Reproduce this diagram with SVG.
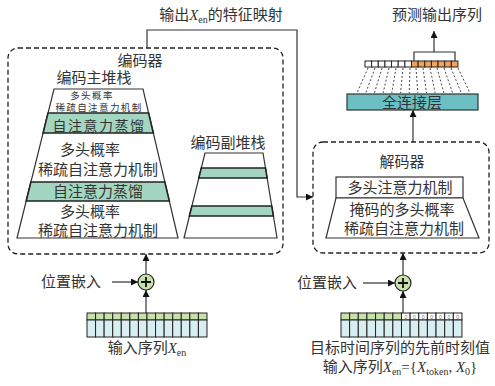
<svg xmlns="http://www.w3.org/2000/svg" width="495" height="386" viewBox="0 0 495 386">
<style>
text{font-family:"Noto Sans CJK SC","Liberation Sans",sans-serif;font-size:15px;fill:#333;text-anchor:middle}
.s{font-size:9.5px;letter-spacing:1.4px}
.m{font-size:14px;letter-spacing:1.5px}
.x{font-family:"Liberation Serif",serif;font-style:italic}
.sub{font-family:"Liberation Serif",serif;font-size:10px}
.ln{stroke:#333;stroke-width:1.2;fill:none}
.dash{stroke:#222;stroke-width:1.3;fill:none;stroke-dasharray:5 3}
.wh{fill:#fff;stroke:#333;stroke-width:1.2}
.gb{fill:#A3D6C0;stroke:#222;stroke-width:1.6}
.cg{fill:#C6E2A8;stroke:#222;stroke-width:1}
.cb{fill:#D8EEF3;stroke:#222;stroke-width:1}
.cw{fill:#fff;stroke:#222;stroke-width:1}
.co{fill:#F4A25A;stroke:#222;stroke-width:1}
.fd{stroke:#333;stroke-width:0.9;stroke-dasharray:2 2}
.z{font-family:"Liberation Sans",sans-serif;font-size:5px;fill:#777}
</style>
<defs>
<marker id="ah" viewBox="0 0 10 10" refX="10" refY="5" markerWidth="7" markerHeight="7" orient="auto" markerUnits="userSpaceOnUse">
<path d="M0,0 L10,5 L0,10 z" fill="#111"/>
</marker>
</defs>

<g id="encoder">
<rect class="dash" x="8" y="48" width="275" height="206" rx="10"/>
<text x="140" y="66">编码器</text>
</g>

<g id="encoder-main-stack">
<text x="94" y="82.5">编码主堆栈</text>
<polygon class="wh" points="54,89 143,89 178,238 17,238"/>
<polygon class="gb" points="48,113 148.6,113 153.3,133 43.1,133"/>
<polygon class="gb" points="30.9,182 164.8,182 169.3,201 26.2,201"/>
<text class="s" x="92" y="98.5">多头概率</text>
<text class="s" x="99" y="111">稀疏自注意力机制</text>
<text class="m" x="99" y="130.5">自注意力蒸馏</text>
<text x="90" y="155">多头概率</text>
<text x="98" y="175">稀疏自注意力机制</text>
<text x="98" y="197">自注意力蒸馏</text>
<text x="90" y="217">多头概率</text>
<text x="98" y="236">稀疏自注意力机制</text>
</g>

<g id="encoder-sub-stack">
<text x="228" y="148">编码副堆栈</text>
<polygon class="wh" points="205,153 263,153 277,238 184,238"/>
<polygon class="gb" points="201.3,168 265.5,168 267.1,178 198.8,178"/>
<polygon class="gb" points="191.9,206 271.7,206 273.4,216 189.4,216"/>
</g>

<g id="decoder">
<rect class="dash" x="313" y="142" width="176" height="111" rx="10"/>
<text x="402" y="167">解码器</text>
<rect class="wh" x="336" y="177" width="127" height="21"/>
<text x="400" y="193">多头注意力机制</text>
<polygon class="wh" points="336,198 463,198 479,238 326,238"/>
<text x="402" y="215">掩码的多头概率</text>
<text x="404" y="234">稀疏自注意力机制</text>
</g>

<g id="fc-layer">
<rect x="347" y="94" width="131" height="16" fill="#6CC0C3" stroke="#333" stroke-width="1.2"/>
<text x="412" y="108">全连接层</text>
</g>

<g id="output-seq">
<rect class="cw" x="365" y="61" width="6.64" height="6"/>
<rect class="cw" x="371.64" y="61" width="6.64" height="6"/>
<rect class="cw" x="378.28" y="61" width="6.64" height="6"/>
<rect class="cw" x="384.92" y="61" width="6.64" height="6"/>
<rect class="cw" x="391.56" y="61" width="6.64" height="6"/>
<rect class="cw" x="398.2" y="61" width="6.64" height="6"/>
<rect class="cw" x="404.84" y="61" width="6.64" height="6"/>
<rect class="co" x="411.48" y="61" width="6.64" height="6"/>
<rect class="co" x="418.12" y="61" width="6.64" height="6"/>
<rect class="co" x="424.76" y="61" width="6.64" height="6"/>
<rect class="co" x="431.4" y="61" width="6.64" height="6"/>
<rect class="co" x="438.04" y="61" width="6.64" height="6"/>
<rect class="co" x="444.68" y="61" width="6.64" height="6"/>
<rect class="co" x="451.32" y="61" width="6.64" height="6"/>
<g id="fan">
<line class="fd" x1="368" y1="68" x2="357" y2="93"/>
<line class="fd" x1="375" y1="68" x2="365.7" y2="93"/>
<line class="fd" x1="382" y1="68" x2="374.4" y2="93"/>
<line class="fd" x1="389" y1="68" x2="383.1" y2="93"/>
<line class="fd" x1="396" y1="68" x2="391.8" y2="93"/>
<line class="fd" x1="403" y1="68" x2="400.5" y2="93"/>
<line class="fd" x1="410" y1="68" x2="409.2" y2="93"/>
<line class="fd" x1="416" y1="68" x2="417.8" y2="93"/>
<line class="fd" x1="423" y1="68" x2="426.5" y2="93"/>
<line class="fd" x1="430" y1="68" x2="435.2" y2="93"/>
<line class="fd" x1="437" y1="68" x2="443.9" y2="93"/>
<line class="fd" x1="444" y1="68" x2="452.6" y2="93"/>
<line class="fd" x1="451" y1="68" x2="461.3" y2="93"/>
<line class="fd" x1="458" y1="68" x2="470" y2="93"/>
</g>
<text x="437" y="20">预测输出序列</text>
</g>

<g id="enc-input">
<rect class="cg" x="87" y="313" width="8.57" height="7"/><rect class="cb" x="87" y="320" width="8.57" height="17"/>
<rect class="cg" x="95.57" y="313" width="8.57" height="7"/><rect class="cb" x="95.57" y="320" width="8.57" height="17"/>
<rect class="cg" x="104.14" y="313" width="8.57" height="7"/><rect class="cb" x="104.14" y="320" width="8.57" height="17"/>
<rect class="cg" x="112.71" y="313" width="8.57" height="7"/><rect class="cb" x="112.71" y="320" width="8.57" height="17"/>
<rect class="cg" x="121.28" y="313" width="8.57" height="7"/><rect class="cb" x="121.28" y="320" width="8.57" height="17"/>
<rect class="cg" x="129.85" y="313" width="8.57" height="7"/><rect class="cb" x="129.85" y="320" width="8.57" height="17"/>
<rect class="cg" x="138.42" y="313" width="8.57" height="7"/><rect class="cb" x="138.42" y="320" width="8.57" height="17"/>
<rect class="cg" x="146.99" y="313" width="8.57" height="7"/><rect class="cb" x="146.99" y="320" width="8.57" height="17"/>
<rect class="cg" x="155.56" y="313" width="8.57" height="7"/><rect class="cb" x="155.56" y="320" width="8.57" height="17"/>
<rect class="cg" x="164.13" y="313" width="8.57" height="7"/><rect class="cb" x="164.13" y="320" width="8.57" height="17"/>
<rect class="cg" x="172.7" y="313" width="8.57" height="7"/><rect class="cb" x="172.7" y="320" width="8.57" height="17"/>
<rect class="cg" x="181.27" y="313" width="8.57" height="7"/><rect class="cb" x="181.27" y="320" width="8.57" height="17"/>
<rect class="cg" x="189.84" y="313" width="8.57" height="7"/><rect class="cb" x="189.84" y="320" width="8.57" height="17"/>
<rect class="cg" x="198.41" y="313" width="8.57" height="7"/><rect class="cb" x="198.41" y="320" width="8.57" height="17"/>
<text x="147" y="353">输入序列<tspan class="x">X</tspan><tspan class="sub" dy="3">en</tspan></text>
</g>

<g id="dec-input">
<rect class="cg" x="341" y="313" width="8.64" height="7"/><rect class="cb" x="341" y="320" width="8.64" height="17"/>
<rect class="cg" x="349.64" y="313" width="8.64" height="7"/><rect class="cb" x="349.64" y="320" width="8.64" height="17"/>
<rect class="cg" x="358.28" y="313" width="8.64" height="7"/><rect class="cb" x="358.28" y="320" width="8.64" height="17"/>
<rect class="cg" x="366.92" y="313" width="8.64" height="7"/><rect class="cb" x="366.92" y="320" width="8.64" height="17"/>
<rect class="cg" x="375.56" y="313" width="8.64" height="7"/><rect class="cb" x="375.56" y="320" width="8.64" height="17"/>
<rect class="cg" x="384.2" y="313" width="8.64" height="7"/><rect class="cb" x="384.2" y="320" width="8.64" height="17"/>
<rect class="cg" x="392.84" y="313" width="8.64" height="7"/><rect class="cb" x="392.84" y="320" width="8.64" height="17"/>
<rect class="cw" x="401.48" y="313" width="8.64" height="7"/><rect class="cb" x="401.48" y="320" width="8.64" height="17"/>
<rect class="cw" x="410.12" y="313" width="8.64" height="7"/><rect class="cb" x="410.12" y="320" width="8.64" height="17"/>
<rect class="cw" x="418.76" y="313" width="8.64" height="7"/><rect class="cb" x="418.76" y="320" width="8.64" height="17"/>
<rect class="cw" x="427.4" y="313" width="8.64" height="7"/><rect class="cb" x="427.4" y="320" width="8.64" height="17"/>
<rect class="cw" x="436.04" y="313" width="8.64" height="7"/><rect class="cb" x="436.04" y="320" width="8.64" height="17"/>
<rect class="cw" x="444.68" y="313" width="8.64" height="7"/><rect class="cb" x="444.68" y="320" width="8.64" height="17"/>
<rect class="cw" x="453.32" y="313" width="8.64" height="7"/><rect class="cb" x="453.32" y="320" width="8.64" height="17"/>
<text class="z" x="405.8" y="318.5">0</text>
<text class="z" x="414.44" y="318.5">0</text>
<text class="z" x="423.08" y="318.5">0</text>
<text class="z" x="431.72" y="318.5">0</text>
<text class="z" x="440.36" y="318.5">0</text>
<text class="z" x="449" y="318.5">0</text>
<text class="z" x="457.64" y="318.5">0</text>
<text x="400" y="353">目标时间序列的先前时刻值</text>
<text x="400" y="372">输入序列<tspan class="x">X</tspan><tspan class="sub" dy="3">en</tspan><tspan dy="-3" font-family="Liberation Serif">={</tspan><tspan class="x">X</tspan><tspan class="sub" dy="3">token</tspan><tspan dy="-3" font-family="Liberation Serif">, </tspan><tspan class="x">X</tspan><tspan class="sub" dy="3">0</tspan><tspan dy="-3" font-family="Liberation Serif">}</tspan></text>
</g>

<g id="enc-pos">
<circle cx="146" cy="282" r="8" fill="#C6E2A8" stroke="#222" stroke-width="1.2"/>
<path d="M141,282 H151 M146,277 V287" stroke="#111" stroke-width="1.8"/>
<text x="71" y="287">位置嵌入</text>
</g>

<g id="dec-pos">
<circle cx="403" cy="283" r="8" fill="#C6E2A8" stroke="#222" stroke-width="1.2"/>
<path d="M398,283 H408 M403,278 V288" stroke="#111" stroke-width="1.8"/>
<text x="327" y="288">位置嵌入</text>
</g>

<g id="labels">
<text x="221" y="20">输出<tspan class="x">X</tspan><tspan class="sub" dy="3">en</tspan><tspan dy="-3">的特征映射</tspan></text>
</g>

<g id="connectors">
<polyline class="ln" points="147,48 147,30 297,30 297,197 313,197" marker-end="url(#ah)"/>
<line class="ln" x1="146" y1="313" x2="146" y2="290" marker-end="url(#ah)"/>
<line class="ln" x1="146" y1="274" x2="146" y2="254" marker-end="url(#ah)"/>
<line class="ln" x1="112" y1="282" x2="138" y2="282" marker-end="url(#ah)"/>
<line class="ln" x1="403" y1="313" x2="403" y2="291" marker-end="url(#ah)"/>
<line class="ln" x1="403" y1="275" x2="403" y2="253" marker-end="url(#ah)"/>
<line class="ln" x1="363" y1="283" x2="395" y2="283" marker-end="url(#ah)"/>
<line class="ln" x1="413" y1="142" x2="413" y2="110" marker-end="url(#ah)"/>
<polyline class="ln" points="414,61 414,52 455,52 455,61"/>
<line class="ln" x1="434" y1="52" x2="434" y2="31" marker-end="url(#ah)"/>
</g>
</svg>
